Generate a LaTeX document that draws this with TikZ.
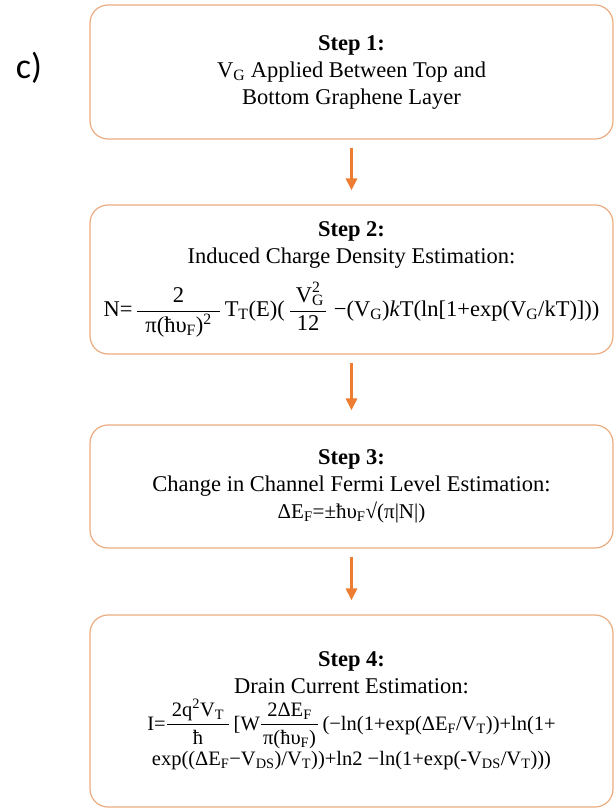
\documentclass[tikz,border=0pt]{standalone}
\usepackage{amsmath}
\usepackage{fontspec}
\setmainfont{Liberation Serif}
\newfontfamily\labelfont{Carlito}
\usetikzlibrary{arrows.meta}
\definecolor{boxline}{RGB}{236,172,128}
\definecolor{arr}{RGB}{237,125,49}
\newcommand\fr[3][3pt]{\ensuremath{\dfrac{\hspace{#1}\mbox{#2}\hspace{#1}}{\hspace{#1}\mbox{#3}\hspace{#1}}}}
\newcommand\sbs[1]{\textsubscript{#1}}
\newcommand\sps[1]{\textsuperscript{#1}}
\newcommand\fsA{\fontsize{22.5}{27}\selectfont}
\newcommand\fsB{\fontsize{21}{25}\selectfont}
\newcommand\fsC{\fontsize{20.5}{25}\selectfont}
\begin{document}
\begin{tikzpicture}[x=1pt,y=-1pt,
  stepbox/.style={draw=boxline, line width=1.2pt, rounded corners=18pt, fill=white,
    minimum width=523pt, align=center, inner sep=0pt,
    font=\fsA},
  flow/.style={draw=arr, line width=3pt, -{Triangle[width=11pt,length=12pt]},
    shorten <=8pt, shorten >=14pt}]
\useasboundingbox (0,0) rectangle (614,810);
\node[font=\labelfont\fontsize{36}{36}\selectfont] (lab) at (29,68) {c)};
\node[stepbox, minimum height=134pt] (s1) at (351.5,72)
  {\textbf{Step 1:}\\V\sbs{G} Applied Between Top and\\Bottom Graphene Layer};
\node[stepbox, minimum height=149pt] (s2) at (351.5,279.5)
  {\textbf{Step 2:}\\Induced Charge Density Estimation:\\[12pt]
   N=\,\fr[8pt]{2}{π(ħυ\sbs{F})\sps{2}}\,T\sbs{T}(E)(\,\fr[6pt]{V\rlap{\sbs{G}}\raisebox{3pt}{\sps{2}}}{12}\;−(V\sbs{G})\textit{k}T(ln[1+exp(V\sbs{G}/kT)]))};
\node[stepbox, minimum height=123pt] (s3) at (351.5,486.5)
  {\textbf{Step 3:}\\Change in Channel Fermi Level Estimation:\\\fsB ΔE\sbs{F}=±ħυ\sbs{F}√(π|N|)};
\node[stepbox, minimum height=192pt] (s4) at (351.5,711)
  {\textbf{Step 4:}\\Drain Current Estimation:\\[4pt]
   \fsC I=\fr[5pt]{2q\sps{2}V\sbs{T}}{ħ}\,[W\fr[2pt]{2ΔE\sbs{F}}{π(ħυ\sbs{F})}\,(−ln(1+exp(ΔE\sbs{F}/V\sbs{T}))+ln(1+\\[2pt]
   \fsC exp((ΔE\sbs{F}−V\sbs{DS})/V\sbs{T}))+ln2 −ln(1+exp(-V\sbs{DS}/V\sbs{T})))};
\draw[flow] (s1) -- (s2);
\draw[flow] (s2) -- (s3);
\draw[flow] (s3) -- (s4);
\end{tikzpicture}
\end{document}
